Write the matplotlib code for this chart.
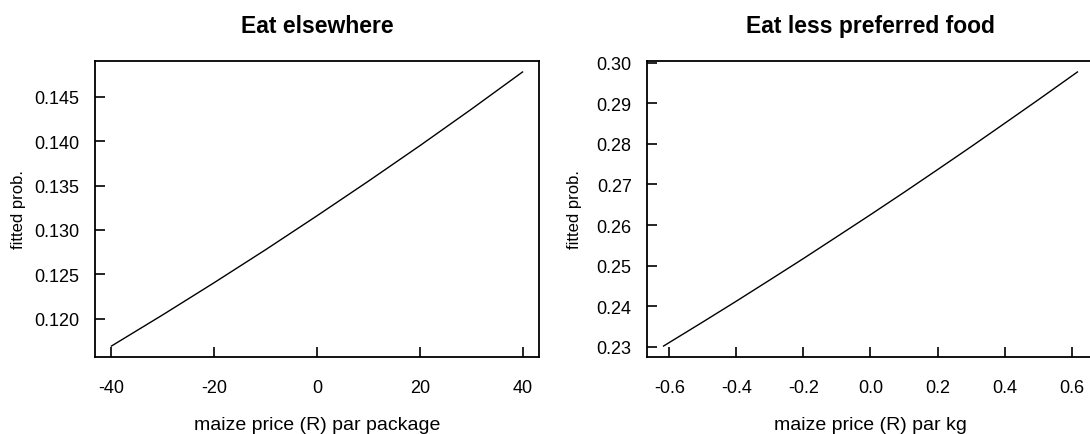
import matplotlib
matplotlib.use("Agg")
import matplotlib.pyplot as plt

plt.rcParams['font.family'] = ['Liberation Sans', 'DejaVu Sans']

# fitted probabilities
price_pkg = [-40, -30, -20, -10, 0, 10, 20, 30, 40]
prob_elsewhere = [0.11693, 0.12045, 0.12407, 0.12778, 0.13160,
                  0.13550, 0.13949, 0.14359, 0.14780]

price_kg = [-0.617, -0.5, -0.4, -0.3, -0.2, -0.1, 0.0,
            0.1, 0.2, 0.3, 0.4, 0.5, 0.617]
prob_lesspref = [0.23020, 0.23612, 0.24125, 0.24648, 0.25175, 0.25714, 0.26255,
                 0.26805, 0.27365, 0.27930, 0.28505, 0.29083, 0.29770]

ticks_pkg = [-40, -20, 0, 20, 40]
ticks_elsewhere = [0.120, 0.125, 0.130, 0.135, 0.140, 0.145]
ticks_kg = [-0.6, -0.4, -0.2, 0.0, 0.2, 0.4, 0.6]
ticks_lesspref = [0.23, 0.24, 0.25, 0.26, 0.27, 0.28, 0.29, 0.30]

fig = plt.figure(figsize=(10.9, 4.35), dpi=100)
ax1 = fig.add_axes([95/1090, 1-358/435, 444/1090, 296/435])
ax2 = fig.add_axes([647/1090, 1-358/435, 447/1090, 296/435])

panels = [
    (ax1, price_pkg, prob_elsewhere, ticks_pkg, ticks_elsewhere,
     "Eat elsewhere", "maize price (R) par package", -0.173),
    (ax2, price_kg, prob_lesspref, ticks_kg, ticks_lesspref,
     "Eat less preferred food", "maize price (R) par kg", -0.163),
]

for ax, x, y, xt, yt, title, xlab, ylx in panels:
    ax.plot(x, y, color='black', lw=1.0)
    span = x[-1] - x[0]
    ax.set_xlim(x[0] - 0.04*span, x[-1] + 0.04*span)
    yspan = y[-1] - y[0]
    ax.set_ylim(y[0] - 0.04*yspan, y[-1] + 0.04*yspan)
    ax.set_xticks(xt)
    ax.set_yticks(yt)
    ax.set_xticklabels([f"{v:g}" if ax is ax1 else f"{v:.1f}" for v in xt])
    if ax is ax1:
        ax.set_yticklabels([f"{v:.3f}" for v in yt])
    else:
        ax.set_yticklabels([f"{v:.2f}" for v in yt])
    ax.tick_params(direction='in', length=7, width=1.2, labelsize=13)
    ax.tick_params(axis='x', pad=16)
    ax.tick_params(axis='y', pad=11)
    for s in ax.spines.values():
        s.set_linewidth(1.3)
    ax.set_title(title, fontsize=16.5, fontweight='bold', pad=21)
    ax.set_xlabel(xlab, fontsize=14)
    ax.xaxis.set_label_coords(0.5, -0.2)
    ax.xaxis.label.set_va('top')
    ax.set_ylabel("fitted prob.", fontsize=12)
    ax.yaxis.set_label_coords(ylx, 0.5)
    ax.yaxis.label.set_va('center')

fig.savefig("out.png", dpi=100)
